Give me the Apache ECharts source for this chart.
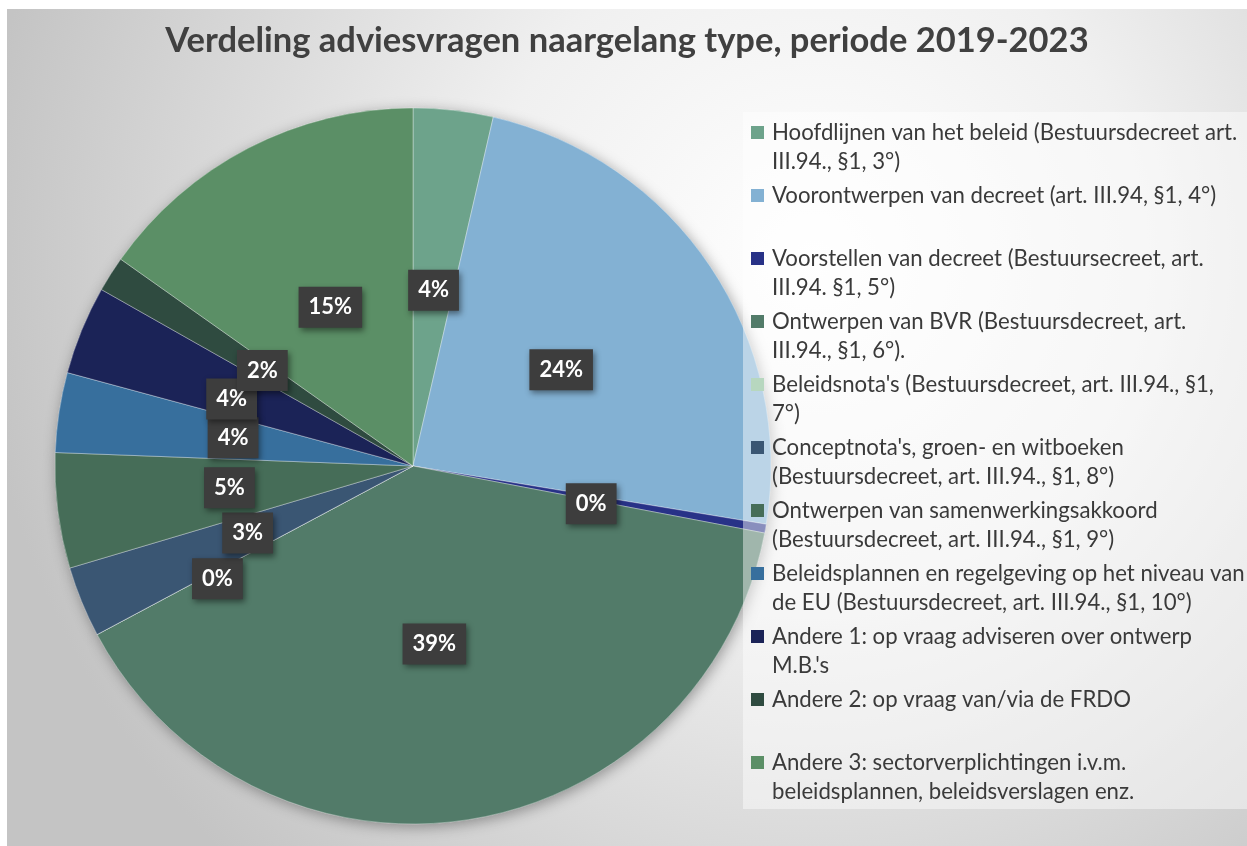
<!DOCTYPE html>
<html>
<head>
<meta charset="utf-8">
<title>Verdeling adviesvragen</title>
<script src="https://cdn.jsdelivr.net/npm/echarts@6/dist/echarts.min.js"></script>
<style>
    html, body { margin: 0; padding: 0; background: #ffffff; }
    #grafico { position: absolute; left: 7px; top: 9px; width: 1240px; height: 837px; }
</style>
</head>
<body>
<div id="grafico"></div>
<script>
// Categorieën (legendevolgorde = volgorde van de sectoren, met de klok mee vanaf 12 uur)
const categorieen = [
    'Hoofdlijnen van het beleid (Bestuursdecreet art. III.94., §1, 3°)',
    'Voorontwerpen van decreet (art. III.94, §1, 4°)',
    'Voorstellen van decreet (Bestuursecreet, art. III.94. §1, 5°)',
    'Ontwerpen van BVR (Bestuursdecreet, art. III.94., §1, 6°).',
    "Beleidsnota's (Bestuursdecreet, art. III.94., §1, 7°)",
    "Conceptnota's, groen- en witboeken (Bestuursdecreet, art. III.94., §1, 8°)",
    'Ontwerpen van samenwerkingsakkoord (Bestuursdecreet, art. III.94., §1, 9°)',
    'Beleidsplannen en regelgeving op het niveau van de EU (Bestuursdecreet, art. III.94., §1, 10°)',
    "Andere 1: op vraag adviseren over ontwerp M.B.'s",
    'Andere 2: op vraag van/via de FRDO',
    'Andere 3: sectorverplichtingen i.v.m. beleidsplannen, beleidsverslagen enz.'
];

// Aantal adviesvragen (geschat uit de sectorgroottes)
const aantallen = [9, 60, 1, 98, 0, 8, 13, 9, 10, 4, 38];

const kleuren = [
    '#6da38b', '#83b1d3', '#283287', '#527b69', '#b7d7bf', '#3a5673',
    '#466d58', '#376f9d', '#1b2357', '#2f4b40', '#5b8f66'
];

// aantal woorden op de eerste regel van de legende
const eersteRegelWoorden = [6, 7, 5, 5, 5, 4, 3, 7, 7, 7, 4];

// kleine verschuivingen van labels die anders overlappen
const labelVerschuiving = [
    [0, 5], [-3, 5], [-1, 6], [-6, -2], [-35, 27], [3, -2],
    [-3, -1], [0, -1], [-13, 2], [3, 2], [1, 3]
];

const chart = echarts.init(document.getElementById('grafico'));

const data = categorieen.map(function (naam, i) {
    return {
        name: naam,
        value: aantallen[i],
        itemStyle: { color: kleuren[i] },
        label: { offset: labelVerschuiving[i] }
    };
});

function legendeTekst(naam) {
    const i = categorieen.indexOf(naam);
    const woorden = naam.split(' ');
    const n = eersteRegelWoorden[i];
    const rest = woorden.slice(n).join(' ');
    return woorden.slice(0, n).join(' ') + '\n' + (rest || ' ');
}

const option = {
    backgroundColor: new echarts.graphic.RadialGradient(0.65, 0.3, 1.0, [
        { offset: 0, color: '#ffffff' },
        { offset: 0.4, color: '#f0f0f0' },
        { offset: 1, color: '#c4c4c4' }
    ]),
    textStyle: { fontFamily: 'Lato' },
    title: {
        text: 'Verdeling adviesvragen naargelang type, periode 2019-2023',
        left: 'center',
        top: 9,
        textStyle: {
            fontFamily: 'Lato',
            fontSize: 34.5,
            fontWeight: 'bold',
            color: '#404040'
        }
    },
    legend: {
        orient: 'vertical',
        left: 736,
        top: 103,
        padding: [6, 8, 2, 8],
        backgroundColor: 'rgba(255,255,255,0.45)',
        itemWidth: 16,
        itemHeight: 59,
        itemGap: 4,
        icon: 'path://M0,0M0,8h13v13h-13zM16,59',
        selectedMode: false,
        data: categorieen,
        formatter: legendeTekst,
        textStyle: {
            fontFamily: 'Lato',
            fontSize: 22.2,
            lineHeight: 29.5,
            color: '#3a3a3a',
            width: 480
        }
    },
    series: [
        {
            // schaduw achter de taart
            name: 'schaduw',
            type: 'pie',
            center: [406, 457],
            radius: 358,
            startAngle: 90,
            silent: true,
            label: { show: false },
            labelLine: { show: false },
            itemStyle: {
                shadowBlur: 14,
                shadowColor: 'rgba(0,0,0,0.35)',
                shadowOffsetX: 2,
                shadowOffsetY: 3
            },
            data: data.map(function (d) {
                return { name: d.name, value: d.value, itemStyle: d.itemStyle };
            })
        },
        {
            name: 'Adviesvragen',
            type: 'pie',
            center: [406, 457],
            radius: 358,
            startAngle: 90,
            avoidLabelOverlap: false,
            labelLayout: { hideOverlap: false },
            itemStyle: {
                borderColor: 'rgba(255,255,255,0.35)',
                borderWidth: 1
            },
            label: {
                show: true,
                position: 'inside',
                formatter: function (p) {
                    return Math.round(p.percent) + '%';
                },
                fontFamily: 'Lato',
                fontSize: 22,
                fontWeight: 'bold',
                color: '#ffffff',
                lineHeight: 22,
                backgroundColor: '#3d3d3d',
                padding: [10, 10, 9, 10],
                shadowBlur: 6,
                shadowColor: 'rgba(0,0,0,0.45)',
                shadowOffsetX: 2,
                shadowOffsetY: 3
            },
            labelLine: { show: false },
            emphasis: { disabled: true },
            data: data
        }
    ]
};

chart.setOption(option);

window.addEventListener('resize', function () {
    chart.resize();
});
</script>
</body>
</html>
